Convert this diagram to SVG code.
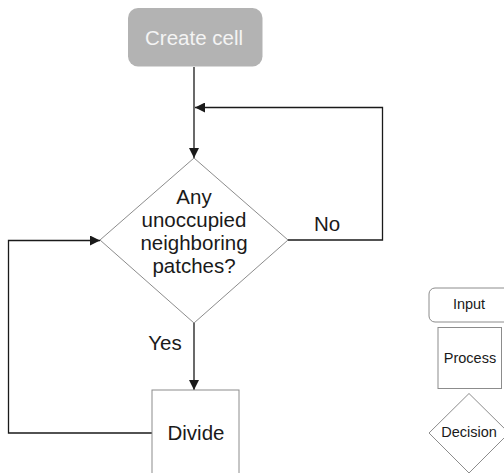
<svg xmlns="http://www.w3.org/2000/svg" width="504" height="473" viewBox="0 0 504 473">
  <style>
    .shape { fill: #ffffff; stroke: #8c8c8c; stroke-width: 1; }
    .edge { fill: none; stroke: #1a1a1a; stroke-width: 1.3; }
    .label { font-family: "Liberation Sans", Arial, sans-serif; font-size: 20.5px; fill: #1a1a1a; text-anchor: middle; }
    .small { font-family: "Liberation Sans", Arial, sans-serif; font-size: 14.5px; fill: #1a1a1a; text-anchor: middle; }
  </style>
  <defs>
    <marker id="arrow" viewBox="0 0 10 10" refX="10" refY="5" markerWidth="10" markerHeight="10" markerUnits="userSpaceOnUse" orient="auto">
      <path d="M0,0 L10,5 L0,10 Z" fill="#1a1a1a"/>
    </marker>
  </defs>

  <rect width="504" height="473" fill="#ffffff"/>

  <!-- connectors -->
  <g id="connectors">
    <path class="edge" d="M194,67 V158" marker-end="url(#arrow)"/>
    <path class="edge" d="M288,240 H382.5 V107.5 H195" marker-end="url(#arrow)"/>
    <path class="edge" d="M194,323 V390" marker-end="url(#arrow)"/>
    <path class="edge" d="M152,433 H8.5 V240.5 H100" marker-end="url(#arrow)"/>
    <text class="label" x="327" y="231">No</text>
    <text class="label" x="165" y="350">Yes</text>
  </g>

  <!-- start node -->
  <g id="create-cell">
    <rect x="128" y="8" width="134.5" height="58.5" rx="10" ry="10" fill="#b3b3b3"/>
    <text class="label" x="194" y="45" style="fill:#f4f4f4">Create cell</text>
  </g>

  <!-- decision node -->
  <g id="decision">
    <polygon class="shape" points="194,158 288,240 194,323 100,240"/>
    <text class="label" x="194" y="204">Any</text>
    <text class="label" x="194" y="227">unoccupied</text>
    <text class="label" x="194" y="250">neighboring</text>
    <text class="label" x="194" y="273">patches?</text>
  </g>

  <!-- process node -->
  <g id="divide">
    <rect class="shape" x="152" y="390" width="87" height="95"/>
    <text class="label" x="196" y="440">Divide</text>
  </g>

  <!-- legend -->
  <g id="legend-input">
    <rect class="shape" x="429" y="288" width="90" height="34" rx="6" ry="6"/>
    <text class="small" x="469" y="309">Input</text>
  </g>
  <g id="legend-process">
    <rect class="shape" x="438" y="327.5" width="63.5" height="61"/>
    <text class="small" x="470" y="363">Process</text>
  </g>
  <g id="legend-decision">
    <polygon class="shape" points="469,393.5 509,433 469,473 429,433"/>
    <text class="small" x="469" y="437">Decision</text>
  </g>
</svg>
